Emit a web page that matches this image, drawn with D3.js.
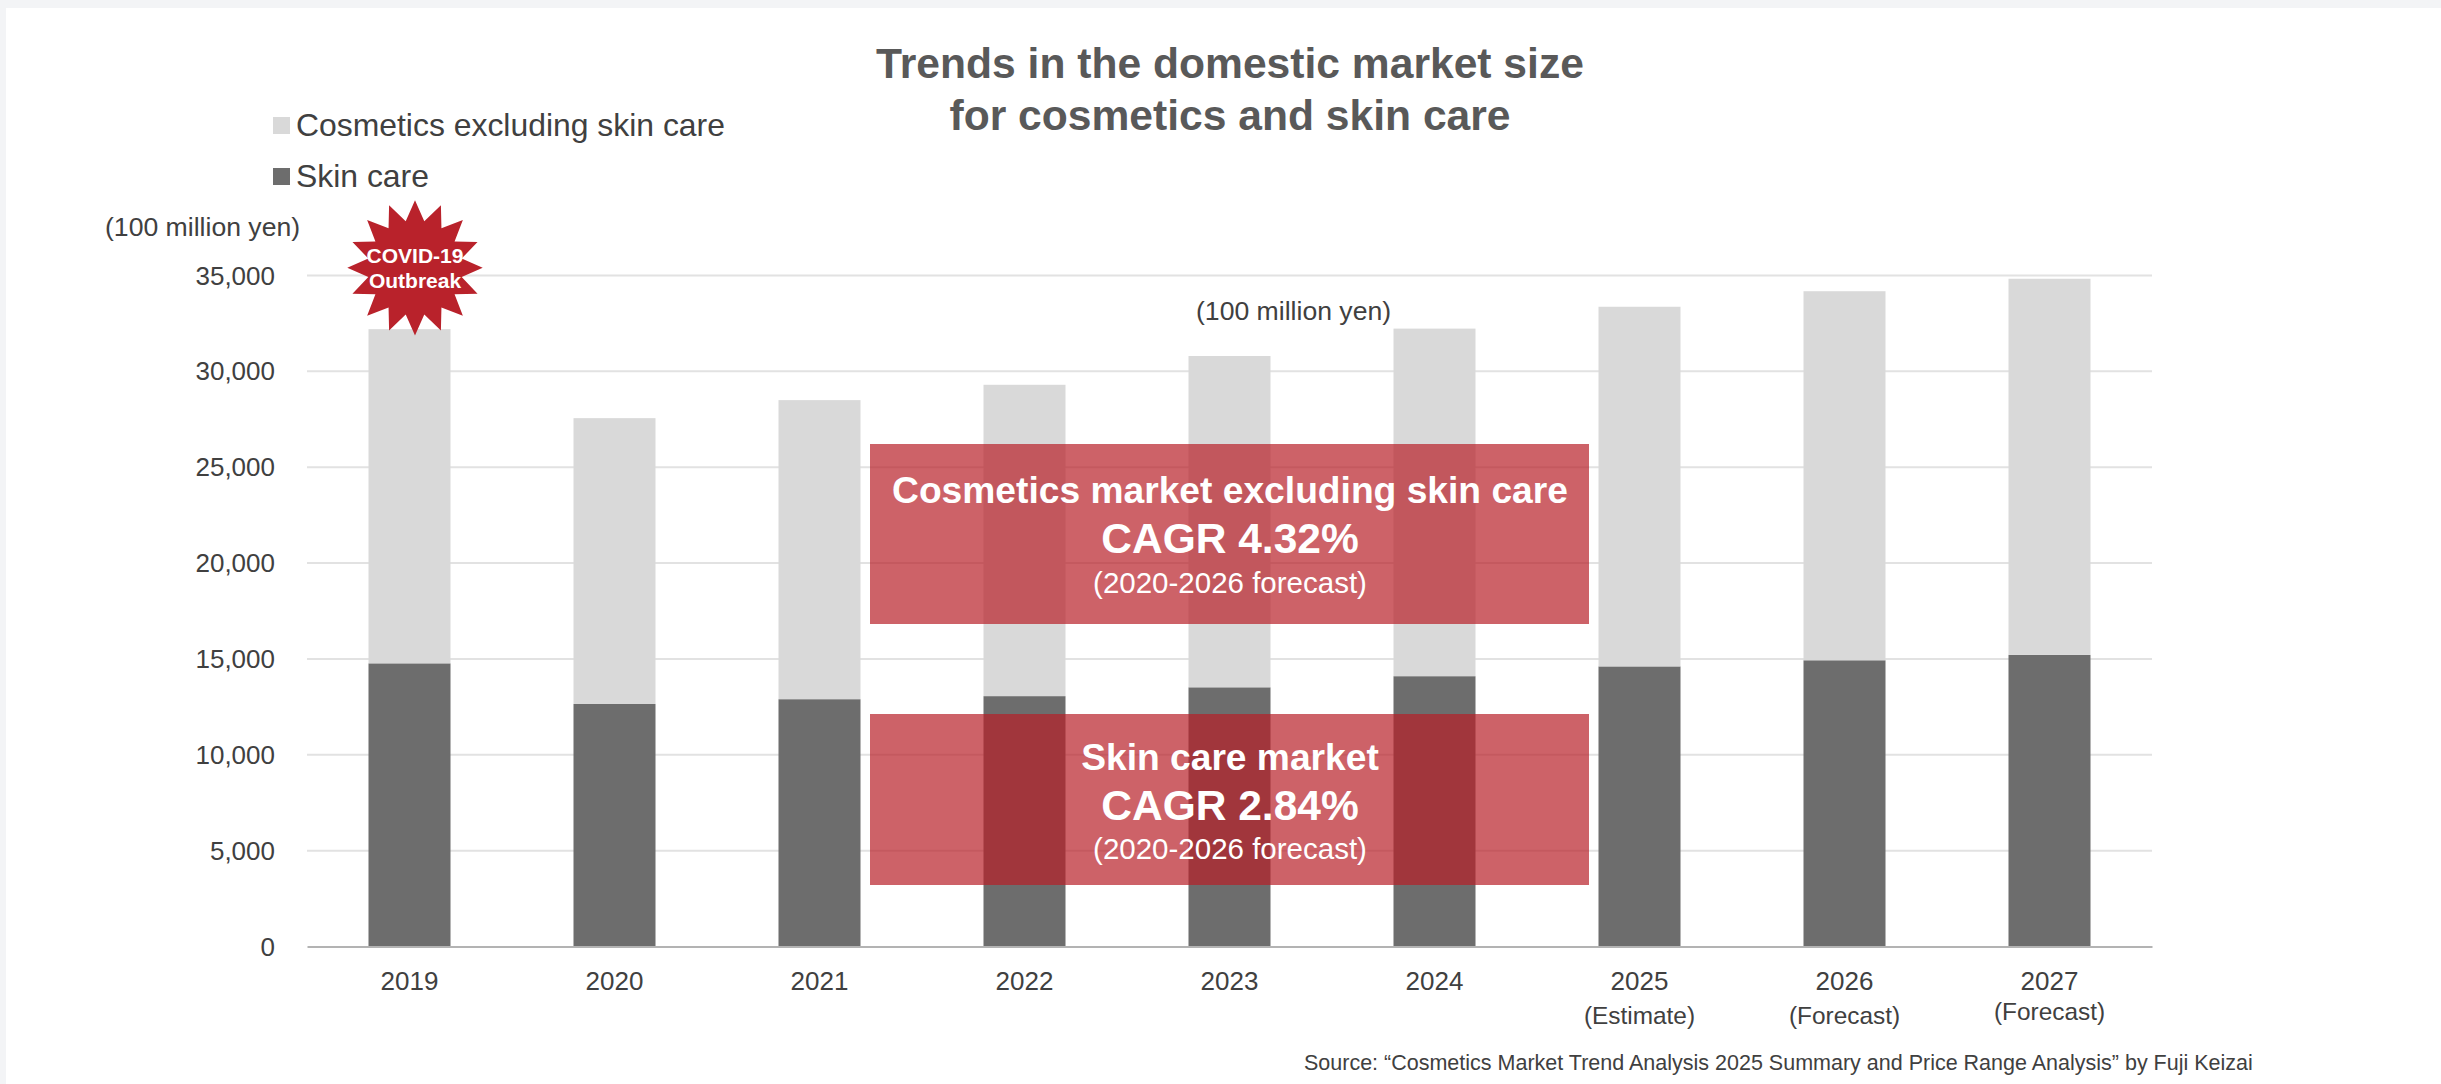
<!DOCTYPE html>
<html>
<head>
<meta charset="utf-8">
<script src="https://cdn.jsdelivr.net/npm/d3@7"></script>
<style>
  html, body { margin: 0; padding: 0; background: #f3f4f6; overflow: hidden; }
  svg { display: block; }
  text { font-family: "Liberation Sans", Arial, sans-serif; }
</style>
</head>
<body>
<svg id="chart" width="2441" height="1084"></svg>
<script>
// Market size in units of 100 million yen
const years = ["2019", "2020", "2021", "2022", "2023", "2024", "2025", "2026", "2027"];
const yearNotes = ["", "", "", "", "", "", "(Estimate)", "(Forecast)", "(Forecast)"];
const skinCare = [14770, 12650, 12900, 13060, 13520, 14100, 14610, 14930, 15210];
const otherCosmetics = [17430, 14910, 15600, 16240, 17280, 18130, 18760, 19250, 19620];
const yTicks = [0, 5000, 10000, 15000, 20000, 25000, 30000, 35000];
const seriesNames = ["Skin care", "Cosmetics excluding skin care"];
const legendOrder = ["Cosmetics excluding skin care", "Skin care"];
const seriesColors = ["#6d6d6d", "#d9d9d9"];
const titleLines = ["Trends in the domestic market size", "for cosmetics and skin care"];
const calloutHeads = ["Cosmetics market excluding skin care", "Skin care market"];
const calloutRates = ["CAGR 4.32%", "CAGR 2.84%"];
const calloutSpans = ["(2020-2026 forecast)", "(2020-2026 forecast)"];

const svg = d3.select("#chart");
const textColor = "#404040";
const fontStack = '"Liberation Sans", Arial, sans-serif';

svg.append("rect").attr("x", 6).attr("y", 8).attr("width", 2435).attr("height", 1076).attr("fill", "#fff");

const x = d3.scaleBand().domain(years).range([307, 2152]).paddingInner(0.6).paddingOuter(0.3);
const y = d3.scaleLinear().domain([0, 35000]).range([946.5, 275.5]);
const color = d3.scaleOrdinal().domain(seriesNames).range(seriesColors);

// Horizontal grid
svg.append("g")
  .selectAll("line")
  .data(yTicks.filter(d => d > 0))
  .join("line")
  .attr("x1", x.range()[0]).attr("x2", x.range()[1])
  .attr("y1", d => y(d)).attr("y2", d => y(d))
  .attr("stroke", "#e2e2e2").attr("stroke-width", 2);

// Stacked columns
const rows = years.map((yr, i) => ({ year: yr, [seriesNames[0]]: skinCare[i], [seriesNames[1]]: otherCosmetics[i] }));
const stacked = d3.stack().keys(seriesNames)(rows);
svg.append("g")
  .selectAll("g")
  .data(stacked)
  .join("g")
  .attr("fill", d => color(d.key))
  .selectAll("rect")
  .data(d => d)
  .join("rect")
  .attr("x", d => x(d.data.year))
  .attr("width", x.bandwidth())
  .attr("y", d => y(d[1]))
  .attr("height", d => y(d[0]) - y(d[1]));

// Axes
const yAxis = d3.axisLeft(y).tickValues(yTicks).tickSize(0).tickPadding(0).tickFormat(d3.format(","));
const yG = svg.append("g").attr("transform", "translate(275,0)").call(yAxis);
yG.select(".domain").remove();
yG.selectAll("text").attr("font-size", 26).attr("fill", textColor).attr("dy", "0.33em")
  .style("font-family", fontStack);

const xAxis = d3.axisBottom(x).tickSize(0).tickPadding(0);
const xG = svg.append("g").attr("transform", `translate(0,${y(0)})`).call(xAxis);
xG.select(".domain").attr("stroke", "#b3b3b3").attr("stroke-width", 2);
xG.selectAll("text").attr("font-size", 26).attr("fill", textColor).attr("y", 25).attr("dy", "0.71em")
  .style("font-family", fontStack);

svg.append("g")
  .selectAll("text")
  .data(years.map((yr, i) => ({ yr, note: yearNotes[i] })).filter(d => d.note))
  .join("text")
  .attr("x", d => x(d.yr) + x.bandwidth() / 2)
  .attr("y", d => d.yr === "2027" ? 1020 : 1024)
  .attr("text-anchor", "middle")
  .attr("font-size", 24.4)
  .attr("fill", textColor)
  .text(d => d.note);

// Title
svg.append("g")
  .selectAll("text")
  .data(titleLines)
  .join("text")
  .attr("x", 1230)
  .attr("y", (d, i) => 78 + i * 52)
  .attr("text-anchor", "middle")
  .attr("font-size", 42.6)
  .attr("font-weight", "bold")
  .attr("fill", "#595959")
  .text(d => d);

// Legend
const legend = svg.append("g")
  .selectAll("g")
  .data(legendOrder)
  .join("g")
  .attr("transform", (d, i) => `translate(273,${117 + i * 51})`);
legend.append("rect").attr("width", 17).attr("height", 17).attr("fill", d => color(d));
legend.append("text").attr("x", 23).attr("y", 19).attr("font-size", 31.9).attr("fill", textColor).text(d => d);

// Unit captions
svg.append("text").attr("x", 105).attr("y", 236).attr("font-size", 26.6).attr("fill", textColor).text("(100 million yen)");
svg.append("text").attr("x", 1196).attr("y", 320).attr("font-size", 26.6).attr("fill", textColor).text("(100 million yen)");

// CAGR callouts
const boxTops = [444, 714];
const boxBottoms = [624, 885];
const headLines = [503, 770];
const rateLines = [553, 820];
const spanLines = [593, 859];
const cx = 1230;
const callout = svg.append("g").selectAll("g").data(calloutHeads).join("g");
callout.append("rect")
  .attr("x", 870).attr("width", 719)
  .attr("y", (d, i) => boxTops[i]).attr("height", (d, i) => boxBottoms[i] - boxTops[i])
  .attr("fill", "rgb(184,32,40)").attr("fill-opacity", 0.7);
callout.append("text").attr("x", cx).attr("y", (d, i) => headLines[i]).attr("text-anchor", "middle")
  .attr("font-size", 37.2).attr("font-weight", "bold").attr("fill", "#fff").text(d => d);
callout.append("text").attr("x", cx).attr("y", (d, i) => rateLines[i]).attr("text-anchor", "middle")
  .attr("font-size", 42.5).attr("font-weight", "bold").attr("fill", "#fff").text((d, i) => calloutRates[i]);
callout.append("text").attr("x", cx).attr("y", (d, i) => spanLines[i]).attr("text-anchor", "middle")
  .attr("font-size", 29.5).attr("fill", "#fff").text((d, i) => calloutSpans[i]);

// Outbreak starburst over the 2019 column
const burstPoints = d3.range(32).map(i => [i * Math.PI / 16, i % 2 ? 47.6 : 67.7]);
const burst = svg.append("g")
  .attr("transform", `translate(${x("2019") + x.bandwidth() / 2 + 5.5},${y(35400)})`);
burst.append("path")
  .attr("d", d3.lineRadial().curve(d3.curveLinearClosed)(burstPoints))
  .attr("fill", "#b9222b");
burst.selectAll("text")
  .data(["COVID-19", "Outbreak"])
  .join("text")
  .attr("text-anchor", "middle")
  .attr("y", (d, i) => -5 + i * 25)
  .attr("font-size", 21)
  .attr("font-weight", "bold")
  .attr("fill", "#fff")
  .text(d => d);

// Source line
svg.append("text").attr("x", 1304).attr("y", 1070).attr("font-size", 21.5).attr("fill", textColor)
  .text("Source: \u201cCosmetics Market Trend Analysis 2025 Summary and Price Range Analysis\u201d by Fuji Keizai");
</script>
</body>
</html>
